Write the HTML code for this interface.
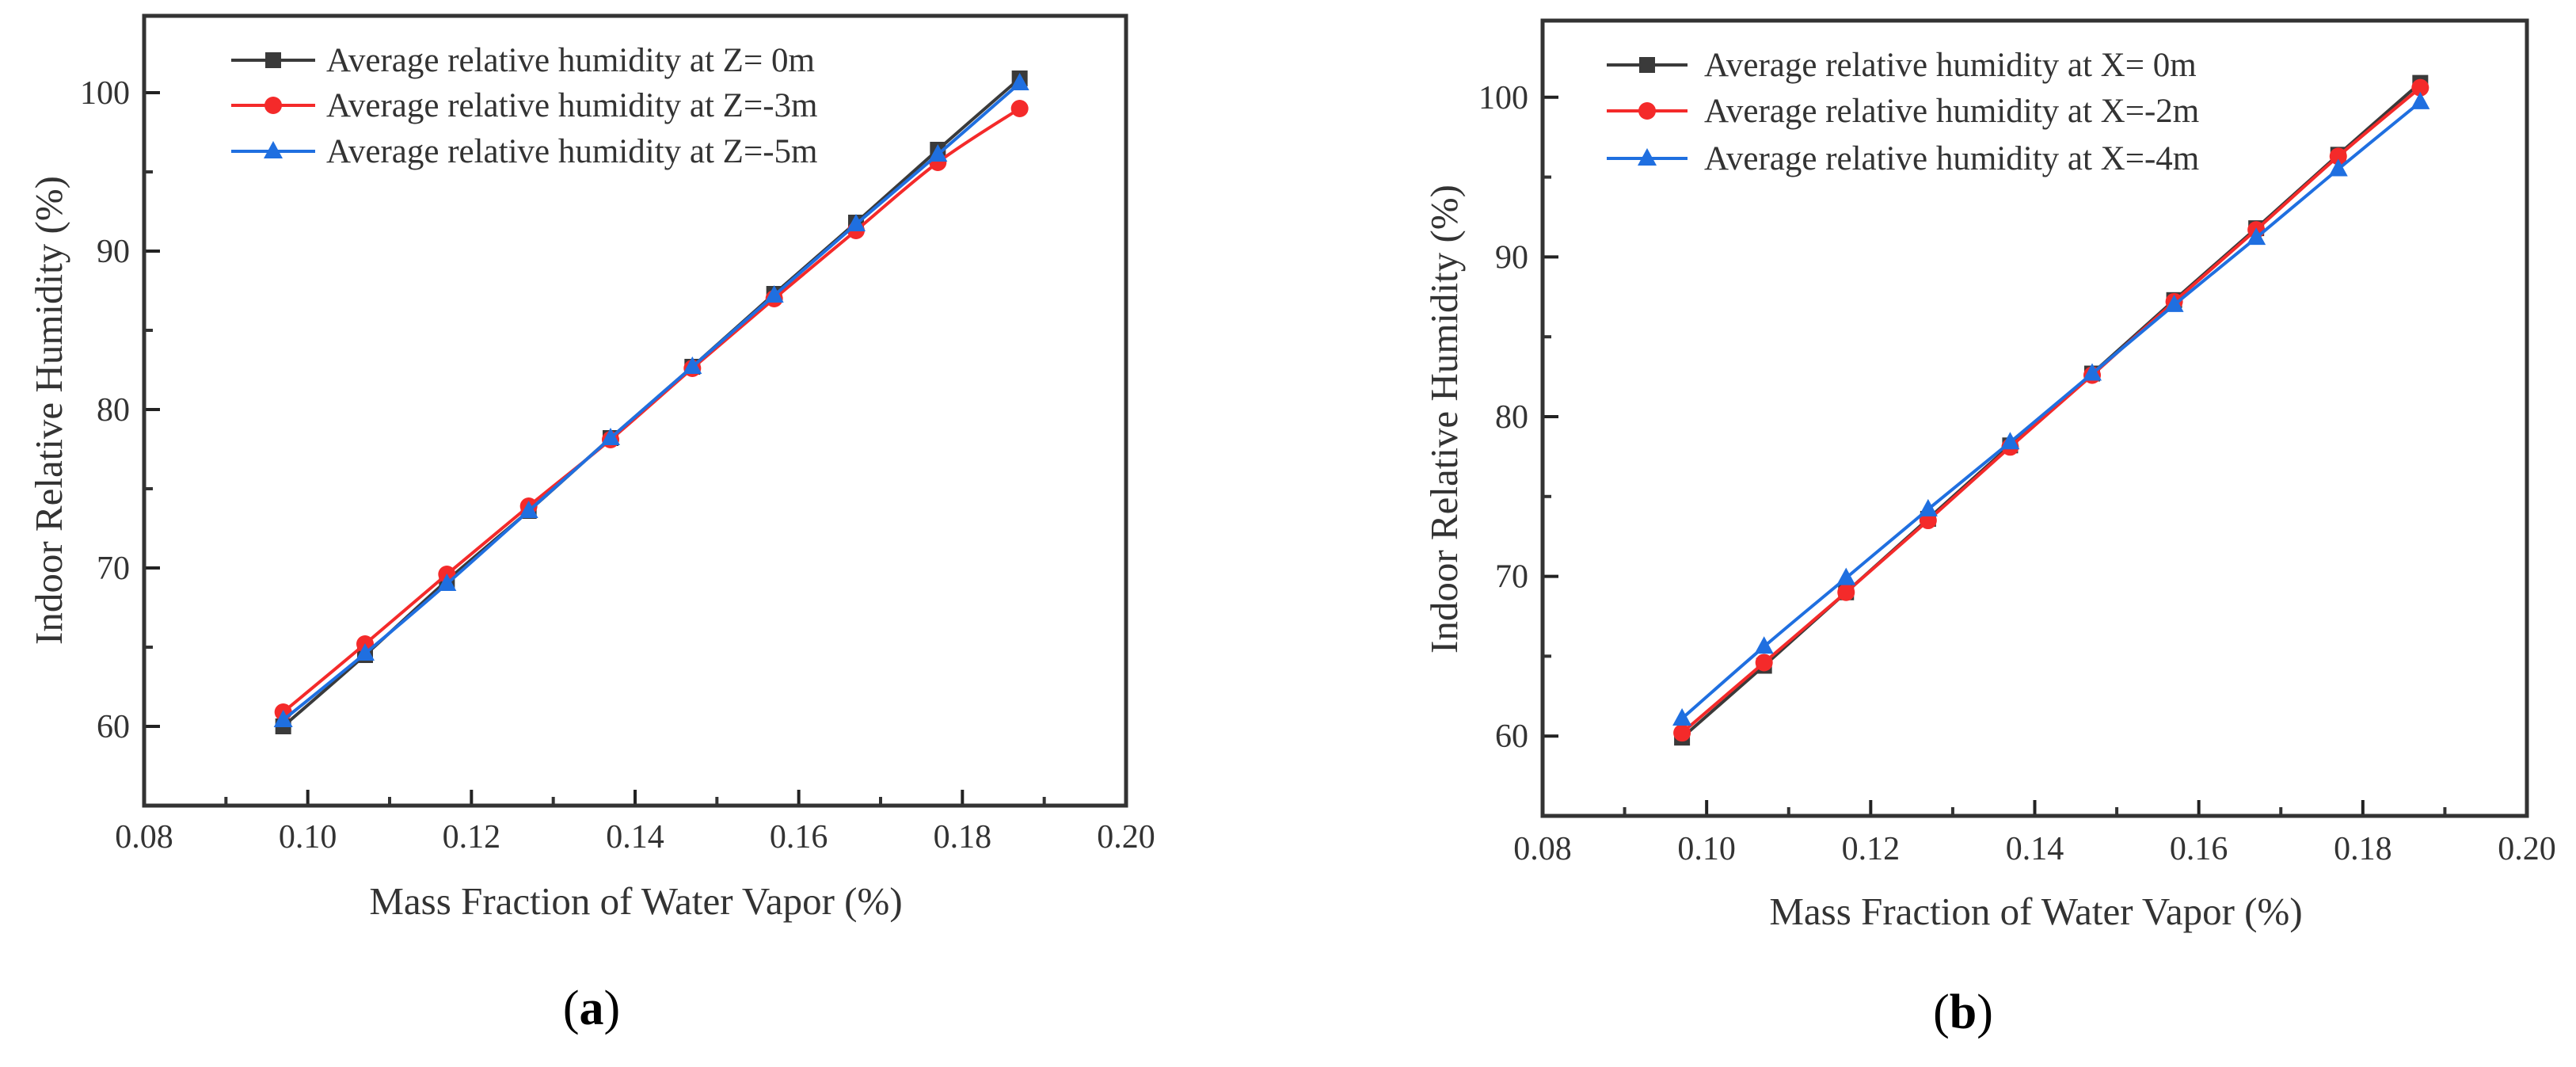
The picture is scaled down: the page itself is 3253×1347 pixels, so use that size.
<!DOCTYPE html>
<html><head><meta charset="utf-8"><style>
html,body{margin:0;padding:0;background:#fff;}
svg{display:block;font-family:"Liberation Serif",serif;}
</style></head><body>
<svg id="fig" width="3253" height="1347" viewBox="0 0 3253 1347" xmlns="http://www.w3.org/2000/svg"></svg>
<script>
const xValues=[0.097,0.107,0.117,0.127,0.137,0.147,0.157,0.167,0.177,0.187];
const xTicks=[0.08,0.10,0.12,0.14,0.16,0.18,0.20];
const xTickLabels=["0.08","0.10","0.12","0.14","0.16","0.18","0.20"];
const yTicks=[60,70,80,90,100];
const yTickLabels=["60","70","80","90","100"];
const seriesA0=[60.0,64.5,69.2,73.6,78.2,82.7,87.3,91.8,96.4,100.9];
const seriesA3=[60.9,65.2,69.6,73.9,78.1,82.6,87.0,91.3,95.6,99.0];
const seriesA5=[60.4,64.6,69.0,73.6,78.2,82.7,87.2,91.7,96.1,100.6];
const seriesB0=[59.9,64.4,69.0,73.6,78.2,82.7,87.3,91.8,96.4,100.9];
const seriesB2=[60.2,64.6,69.0,73.5,78.1,82.6,87.2,91.7,96.3,100.6];
const seriesB4=[61.1,65.6,69.9,74.2,78.4,82.7,87.0,91.2,95.5,99.7];
const legendA=["Average relative humidity at Z= 0m","Average relative humidity at Z=-3m","Average relative humidity at Z=-5m"];
const legendB=["Average relative humidity at X= 0m","Average relative humidity at X=-2m","Average relative humidity at X=-4m"];

const NS="http://www.w3.org/2000/svg";
const svg=document.getElementById('fig');
function el(tag,attrs,parent,text){const e=document.createElementNS(NS,tag);for(const k in attrs)e.setAttribute(k,attrs[k]);if(text!==undefined)e.textContent=text;(parent||svg).appendChild(e);return e;}
const colors=["#3a3a3a","#f42a2a","#1f6fe0"];
const shapes=["square","circle","triangle"];

function marker(g,shape,x,y,c){
  let m;
  if(shape==="square")m=el('rect',{x:x-10,y:y-10,width:20,height:20,fill:c},g);
  else if(shape==="circle")m=el('circle',{cx:x,cy:y,r:11,fill:c},g);
  else m=el('polygon',{points:`${x},${y-13} ${x+12},${y+9} ${x-12},${y+9}`,fill:c},g);
  return m;
}
function smoothPath(pts){
  let d=`M${pts[0][0]},${pts[0][1]}`;
  for(let i=0;i<pts.length-1;i++){
    const p0=pts[i-1]||pts[i],p1=pts[i],p2=pts[i+1],p3=pts[i+2]||p2;
    const c1x=p1[0]+(p2[0]-p0[0])/6,c1y=p1[1]+(p2[1]-p0[1])/6;
    const c2x=p2[0]-(p3[0]-p1[0])/6,c2y=p2[1]-(p3[1]-p1[1])/6;
    d+=` C${c1x},${c1y} ${c2x},${c2y} ${p2[0]},${p2[1]}`;
  }
  return d;
}

function chart(cfg){
  const g=el('g',{},svg);
  
  
  const {L,R,T,B}=cfg;
  const xs=v=>L+(v-0.08)/(0.12)*(R-L);
  const ys=v=>B-(v-55)/(cfg.yTop-55)*(B-T);
  // minor ticks
  for(let v=0.09;v<0.2;v+=0.02){const x=xs(v);el('line',{x1:x,y1:B,x2:x,y2:B-11,stroke:'#333','stroke-width':4},g);}
  for(let v=65;v<=105;v+=10){const y=ys(v);if(y>T)el('line',{x1:L,y1:y,x2:L+11,y2:y,stroke:'#333','stroke-width':4},g);}
  xTicks.forEach((v,i)=>{const x=xs(v);
    el('line',{x1:x,y1:B,x2:x,y2:B-20,stroke:'#222','stroke-width':4},g);
    const t=el('text',{x:x,y:cfg.xLabelY,'font-size':42,'text-anchor':'middle',fill:'#333'},g,xTickLabels[i]);
    });
  yTicks.forEach((v,i)=>{const y=ys(v);
    el('line',{x1:L,y1:y,x2:L+20,y2:y,stroke:'#222','stroke-width':4},g);
    const t=el('text',{x:L-18,y:y+14,'font-size':42,'text-anchor':'end',fill:'#333'},g,yTickLabels[i]);
    });
  const frame=el('rect',{x:L,y:T,width:R-L,height:B-T,fill:'none',stroke:'#333','stroke-width':5},g);
  
  cfg.series.forEach((s,si)=>{
    const pts=xValues.map((xv,i)=>[xs(xv),ys(s[i])]);
    const p=el('path',{d:smoothPath(pts),fill:'none',stroke:colors[si],'stroke-width':4},g);
    
    pts.forEach(pt=>{const m=marker(g,shapes[si],pt[0],pt[1],colors[si]);
      });
  });
  cfg.legend.forEach((txt,i)=>{const y=cfg.legY[i];
    const lg=el('g',{},g);
    
    el('line',{x1:cfg.legX1,y1:y,x2:cfg.legX2,y2:y,stroke:colors[i],'stroke-width':4},lg);
    marker(lg,shapes[i],(cfg.legX1+cfg.legX2)/2,y,colors[i]);
    el('text',{x:cfg.legTX,y:y+14,'font-size':43,fill:'#333'},lg,txt);
  });
  const xt=el('text',{x:cfg.xtX,y:cfg.xtY+16,'font-size':49,'text-anchor':'middle',fill:'#333'},g,"Mass Fraction of Water Vapor (%)");
  
  const yt=el('text',{x:0,y:0,'font-size':49,'text-anchor':'middle',fill:'#333',transform:`translate(${cfg.ytX+16},${cfg.ytY}) rotate(-90)`},g,"Indoor Relative Humidity (%)");
  
  const cap=el('text',{x:cfg.capX,y:cfg.capY+20,'font-size':62,'text-anchor':'middle',fill:'#000'},g);
  
  el('tspan',{},cap,"(");el('tspan',{'font-weight':'bold'},cap,cfg.cap);el('tspan',{},cap,")");
}

chart({name:'chart-a',L:182,R:1422,T:20,B:1017,yTop:104.85,series:[seriesA0,seriesA3,seriesA5],legend:legendA,
  legY:[76,133,191],legX1:292,legX2:398,legTX:412,xLabelY:1070,xtX:803,xtY:1138,ytX:62,ytY:518,capX:747,capY:1273,cap:'a'});
chart({name:'chart-b',L:1948,R:3191,T:26,B:1030,yTop:104.8,series:[seriesB0,seriesB2,seriesB4],legend:legendB,
  legY:[82,140,200],legX1:2029,legX2:2131,legTX:2152,xLabelY:1085,xtX:2571,xtY:1151,ytX:1824,ytY:529,capX:2479,capY:1278,cap:'b'});
</script>
</body></html>
